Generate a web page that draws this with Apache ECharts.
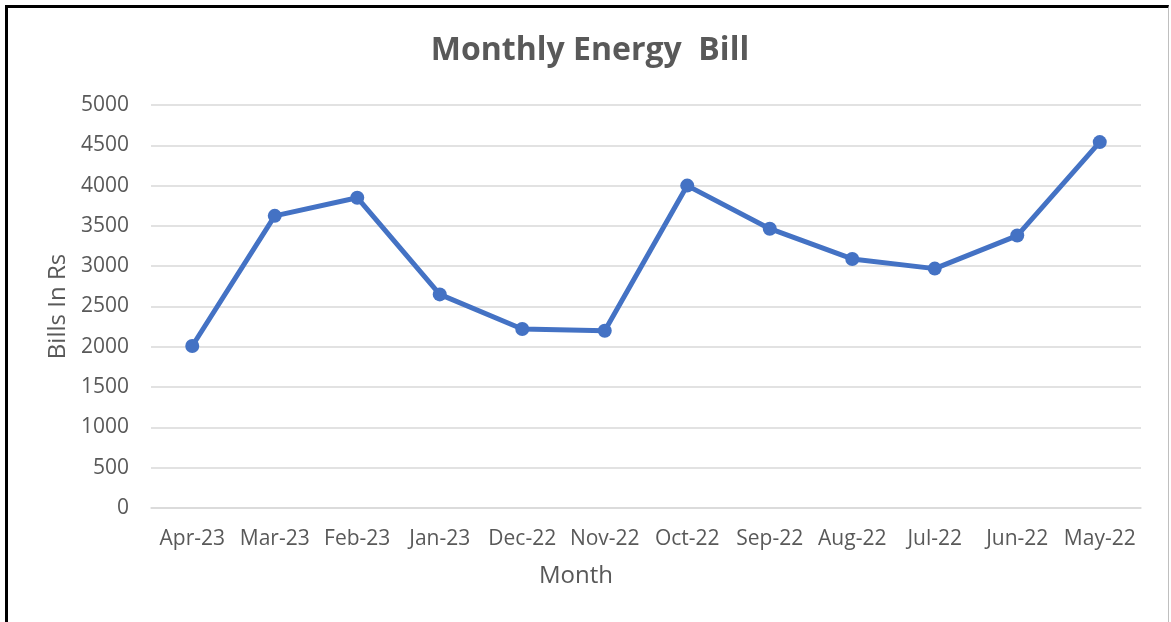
<!DOCTYPE html>
<html>
<head>
<meta charset="utf-8">
<title>Monthly Energy Bill</title>
<script src="https://cdn.jsdelivr.net/npm/echarts@6/dist/echarts.min.js"></script>
<style>
  html, body { margin: 0; padding: 0; background: #fff; }
  .frame {
    position: absolute; left: 5px; top: 5px; width: 1164px; height: 640px;
    border-top: 3px solid #000; border-left: 3px solid #000; border-right: 1px solid #bfbfbf;
    box-sizing: border-box;
  }
  #chart { position: absolute; left: 0; top: 0; width: 1171px; height: 622px; }
</style>
</head>
<body>
<div class="frame"></div>
<div id="chart"></div>
<script>
var months = ['Apr-23', 'Mar-23', 'Feb-23', 'Jan-23', 'Dec-22', 'Nov-22', 'Oct-22', 'Sep-22', 'Aug-22', 'Jul-22', 'Jun-22', 'May-22']
var bills = [2010, 3625, 3850, 2650, 2220, 2200, 4000, 3465, 3090, 2970, 3380, 4540]

var font = '"Open Sans", sans-serif'
var chart = echarts.init(document.getElementById('chart'))
chart.setOption({
  animation: false,
  title: [{
    text: 'Monthly Energy  Bill',
    left: 585,
    top: 30,
    textAlign: 'center',
    textStyle: { color: '#595959', fontSize: 32, fontWeight: 'bold', fontFamily: font }
  }, {
    // axis title sits left of the plot centre in the original
    text: 'Month',
    left: 571,
    top: 559,
    textAlign: 'center',
    textStyle: { color: '#595959', fontSize: 24, fontWeight: 'normal', fontFamily: font }
  }],
  grid: { left: 151, right: 30, top: 105, bottom: 114 },
  xAxis: {
    type: 'category',
    data: months,
    axisLine: { lineStyle: { color: '#d9d9d9', width: 1.5 } },
    axisTick: { show: false },
    axisLabel: { color: '#595959', fontSize: 21, fontFamily: font, margin: 21, interval: 0 }
  },
  yAxis: {
    type: 'value',
    min: 0,
    max: 5000,
    interval: 500,
    name: 'Bills In Rs',
    nameLocation: 'middle',
    nameGap: 80,
    nameTextStyle: { color: '#595959', fontSize: 24, fontFamily: font },
    axisLine: { show: false },
    axisTick: { show: false },
    axisLabel: { color: '#595959', fontSize: 21, fontFamily: font, margin: 22, formatter: function (v) { return String(v) } },
    splitLine: { lineStyle: { color: '#d9d9d9', width: 1.5 } }
  },
  series: [{
    type: 'line',
    data: bills,
    symbol: 'circle',
    symbolSize: 14,
    lineStyle: { color: '#4472c4', width: 5 },
    itemStyle: { color: '#4472c4' }
  }]
})
</script>
</body>
</html>
